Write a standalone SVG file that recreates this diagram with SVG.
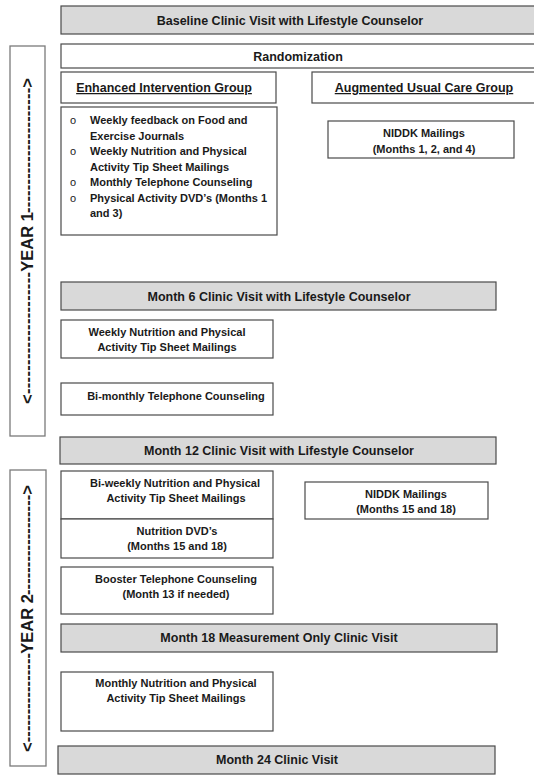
<svg xmlns="http://www.w3.org/2000/svg" width="534" height="775" viewBox="0 0 534 775">
<style>
.box{fill:#fff;stroke:#4a4a4a;stroke-width:1.2}
.hdr{fill:#d9d9d9;stroke:#4a4a4a;stroke-width:1.2}
.yr{fill:#fff;stroke:#7a7a7a;stroke-width:1.3}
text{font-family:"Liberation Sans",Arial,sans-serif;font-weight:bold;fill:#1a1a1a}
.h{font-size:12.5px;text-anchor:middle}
.b{font-size:11px;text-anchor:middle}
.l{font-size:11px}
.o{font-size:11px;font-weight:normal}
.u{text-decoration:underline}
.y{font-size:16.5px}
.d{font-size:16.5px}
</style>
<rect width="534" height="775" fill="#fff"/>
<g id="connectors"/>
<g id="year1">
<rect class="yr" x="10" y="46" width="35" height="390"/>
<g transform="translate(33,242) rotate(-90)">
<text class="d" x="-162" y="0" textLength="132" lengthAdjust="spacing">&lt;---------------------</text>
<text class="y" x="0" y="0" text-anchor="middle">YEAR 1</text>
<text class="d" x="29" y="0" textLength="135" lengthAdjust="spacing">----------------------&gt;</text>
</g>
</g>
<g id="year2">
<rect class="yr" x="10" y="470" width="36" height="296"/>
<g transform="translate(33,624) rotate(-90)">
<text class="d" x="-128" y="0" textLength="99" lengthAdjust="spacing">&lt;----------------</text>
<text class="y" x="0" y="0" text-anchor="middle">YEAR 2</text>
<text class="d" x="29" y="0" textLength="110" lengthAdjust="spacing">------------------&gt;</text>
</g>
</g>
<g id="baseline">
<rect class="hdr" x="61" y="6" width="480" height="28"/>
<text class="h" x="290" y="25">Baseline Clinic Visit with Lifestyle Counselor</text>
</g>
<g id="randomization">
<rect class="box" x="61" y="44" width="480" height="24"/>
<text class="h" x="298" y="61">Randomization</text>
</g>
<g id="enhanced">
<rect class="box" x="61" y="72" width="215" height="31"/>
<text class="h u" x="164" y="92">Enhanced Intervention Group</text>
</g>
<g id="augmented">
<rect class="box" x="312" y="72" width="230" height="31"/>
<text class="h u" x="424" y="92">Augmented Usual Care Group</text>
</g>
<g id="enhanced-year1-list">
<rect class="box" x="61" y="107" width="216" height="128"/>
<text class="o" x="70" y="124">o</text>
<text class="o" x="70" y="155">o</text>
<text class="o" x="70" y="186">o</text>
<text class="o" x="70" y="201.5">o</text>
<text class="l" x="90" y="124">Weekly feedback on Food and</text>
<text class="l" x="90" y="139.5">Exercise Journals</text>
<text class="l" x="90" y="155">Weekly Nutrition and Physical</text>
<text class="l" x="90" y="170.5">Activity Tip Sheet Mailings</text>
<text class="l" x="90" y="186">Monthly Telephone Counseling</text>
<text class="l" x="90" y="201.5">Physical Activity DVD’s (Months 1</text>
<text class="l" x="90" y="217">and 3)</text>
</g>
<g id="niddk1">
<rect class="box" x="328" y="121" width="186" height="37"/>
<text class="b" x="424" y="137">NIDDK Mailings</text>
<text class="b" x="424" y="153">(Months 1, 2, and 4)</text>
</g>
<g id="month6">
<rect class="hdr" x="61" y="282" width="435" height="28"/>
<text class="h" x="279" y="300.5">Month 6 Clinic Visit with Lifestyle Counselor</text>
</g>
<g id="weekly-tips">
<rect class="box" x="61" y="320" width="212" height="38"/>
<text class="b" x="167" y="336">Weekly Nutrition and Physical</text>
<text class="b" x="167" y="351">Activity Tip Sheet Mailings</text>
</g>
<g id="bimonthly">
<rect class="box" x="61" y="383" width="212" height="32"/>
<text class="b" x="176" y="399.5">Bi-monthly Telephone Counseling</text>
</g>
<g id="month12">
<rect class="hdr" x="60" y="437" width="436" height="27"/>
<text class="h" x="279" y="455">Month 12 Clinic Visit with Lifestyle Counselor</text>
</g>
<g id="biweekly-tips">
<rect class="box" x="61" y="471" width="212" height="48"/>
<text class="b" x="175" y="487">Bi-weekly Nutrition and Physical</text>
<text class="b" x="176" y="502">Activity Tip Sheet Mailings</text>
</g>
<g id="nutrition-dvd">
<rect class="box" x="61" y="519" width="212" height="39"/>
<text class="b" x="177" y="535">Nutrition DVD’s</text>
<text class="b" x="177" y="550">(Months 15 and 18)</text>
</g>
<g id="booster">
<rect class="box" x="61" y="567" width="212" height="47"/>
<text class="b" x="176" y="583">Booster Telephone Counseling</text>
<text class="b" x="176" y="598">(Month 13 if needed)</text>
</g>
<g id="niddk2">
<rect class="box" x="305" y="482" width="183" height="37"/>
<text class="b" x="406" y="497.5">NIDDK Mailings</text>
<text class="b" x="406" y="512.5">(Months 15 and 18)</text>
</g>
<g id="month18">
<rect class="hdr" x="61" y="624" width="436" height="28"/>
<text class="h" x="279" y="642">Month 18 Measurement Only Clinic Visit</text>
</g>
<g id="monthly-tips">
<rect class="box" x="61" y="672" width="212" height="59"/>
<text class="b" x="176" y="687">Monthly Nutrition and Physical</text>
<text class="b" x="176" y="702">Activity Tip Sheet Mailings</text>
</g>
<g id="month24">
<rect class="hdr" x="58" y="746" width="437" height="28"/>
<text class="h" x="277" y="764">Month 24 Clinic Visit</text>
</g>
</svg>
